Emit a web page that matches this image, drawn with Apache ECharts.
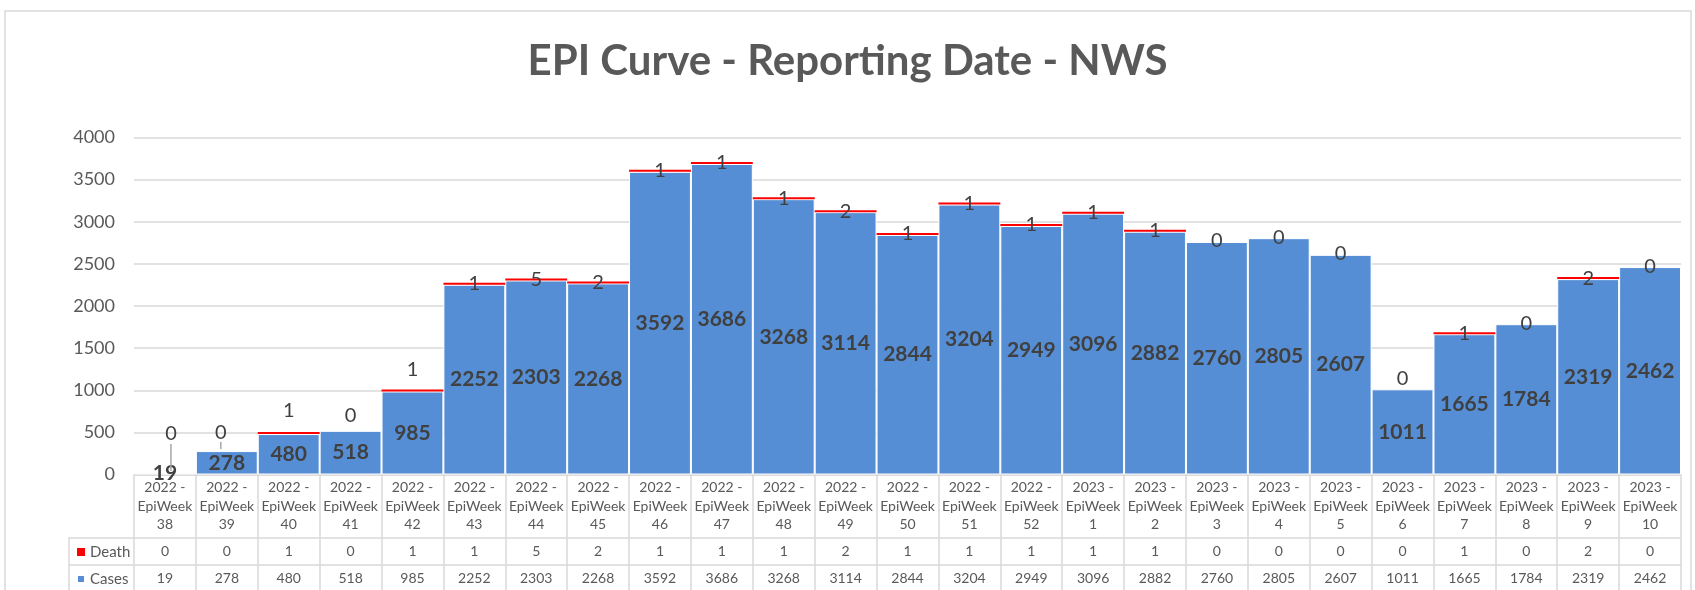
<!DOCTYPE html>
<html>
<head>
<meta charset="utf-8">
<title>EPI Curve - Reporting Date - NWS</title>
<script src="https://cdn.jsdelivr.net/npm/echarts@6/dist/echarts.min.js"></script>
<style>
  html, body { margin: 0; padding: 0; background: #fff; }
  #chart { width: 1695px; height: 590px; }
</style>
</head>
<body>
<div id="chart"></div>
<script>
// data
const categories = [
    '2022 - EpiWeek 38', '2022 - EpiWeek 39', '2022 - EpiWeek 40', '2022 - EpiWeek 41',
    '2022 - EpiWeek 42', '2022 - EpiWeek 43', '2022 - EpiWeek 44', '2022 - EpiWeek 45',
    '2022 - EpiWeek 46', '2022 - EpiWeek 47', '2022 - EpiWeek 48', '2022 - EpiWeek 49',
    '2022 - EpiWeek 50', '2022 - EpiWeek 51', '2022 - EpiWeek 52', '2023 - EpiWeek 1',
    '2023 - EpiWeek 2', '2023 - EpiWeek 3', '2023 - EpiWeek 4', '2023 - EpiWeek 5',
    '2023 - EpiWeek 6', '2023 - EpiWeek 7', '2023 - EpiWeek 8', '2023 - EpiWeek 9',
    '2023 - EpiWeek 10'
];
const cases = [19, 278, 480, 518, 985, 2252, 2303, 2268, 3592, 3686, 3268, 3114, 2844,
    3204, 2949, 3096, 2882, 2760, 2805, 2607, 1011, 1665, 1784, 2319, 2462];
const death = [0, 0, 1, 0, 1, 1, 5, 2, 1, 1, 1, 2, 1, 1, 1, 1, 1, 0, 0, 0, 0, 1, 0, 2, 0];
const yTicks = [0, 500, 1000, 1500, 2000, 2500, 3000, 3500, 4000];

// Excel moved a few death labels off the short bars
const labelNudge = { 0: [6, -38], 1: [-6, -18], 2: [0, -23], 3: [0, -14], 4: [0, -21], 20: [0, -10] };
const withLeader = [0, 1];

const FONT = 'Lato';
const GREY = '#595959';
const LINE = '#d9d9d9';
const BLUE = '#558ED5';
const RED = '#FF0000';

const chart = echarts.init(document.getElementById('chart'), null, { renderer: 'canvas' });

function tableAxis(values, offset, tickLen) {
    return {
        type: 'category',
        data: categories,
        position: 'bottom',
        offset: offset,
        axisLine: { show: true, lineStyle: { color: LINE, width: 1.5 } },
        axisTick: { show: true, interval: 0, length: tickLen, lineStyle: { color: LINE, width: 1.5 } },
        axisLabel: {
            interval: 0, margin: 6, fontFamily: FONT, fontSize: 14, color: GREY,
            formatter: (v, i) => String(values[i])
        },
        splitLine: { show: false }
    };
}

const option = {
    animation: false,
    backgroundColor: '#fff',
    title: {
        text: 'EPI Curve - Reporting Date - NWS',
        left: 'center',
        top: 35,
        textStyle: { fontFamily: FONT, fontSize: 42, fontWeight: 'bold', color: GREY }
    },
    legend: {
        data: [
            { name: 'Death', itemStyle: { color: RED } },
            { name: 'Cases', itemStyle: { color: BLUE } }
        ],
        orient: 'vertical',
        left: 76,
        top: 544,
        padding: 0,
        itemWidth: 8,
        itemHeight: 8,
        itemGap: 11,
        icon: 'rect',
        textStyle: { fontFamily: FONT, fontSize: 15, color: GREY, lineHeight: 16 }
    },
    grid: { left: 134, right: 14, top: 137.5, bottom: 115.5 },
    xAxis: [
        {
            type: 'category',
            data: categories,
            position: 'bottom',
            axisLine: { show: true, lineStyle: { color: LINE, width: 1.5 } },
            axisTick: { show: true, interval: 0, length: 63, lineStyle: { color: LINE, width: 1.5 } },
            axisLabel: {
                interval: 0, margin: 4, fontFamily: FONT, fontSize: 14, lineHeight: 18.5, color: GREY,
                formatter: v => {
                    const [yr, wk] = v.split(' - ');
                    return yr + ' -\n' + wk.replace(' ', '\n');
                }
            }
        },
        tableAxis(death, 63.5, 27),
        tableAxis(cases, 90.5, 30)
    ],
    yAxis: {
        type: 'value',
        min: yTicks[0],
        max: yTicks[yTicks.length - 1],
        interval: yTicks[1] - yTicks[0],
        axisLine: { show: false },
        axisTick: { show: false },
        axisLabel: { margin: 19, fontFamily: FONT, fontSize: 18, color: GREY, formatter: v => String(v) },
        splitLine: { lineStyle: { color: LINE, width: 1.5 } }
    },
    series: [
        {
            name: 'Cases',
            type: 'bar',
            stack: 'total',
            data: cases,
            barCategoryGap: '0%',
            itemStyle: { color: BLUE, borderColor: '#fff', borderWidth: 1 },
            label: {
                show: true, position: 'inside', fontFamily: FONT, fontSize: 21,
                fontWeight: 'bold', color: '#404040'
            },
            z: 2
        },
        {
            name: 'Death',
            type: 'bar',
            stack: 'total',
            barMinHeight: 2,
            data: death.map((v, i) => withLeader.includes(i)
                ? { value: v, labelLine: { show: true } }
                : v),
            itemStyle: { color: p => p.value > 0 ? RED : 'rgba(0,0,0,0)' },
            label: {
                show: true, position: 'inside', offset: [0, 3], fontFamily: FONT,
                fontSize: 20, color: '#404040'
            },
            labelLine: { show: false, lineStyle: { color: '#a6a6a6', width: 1.5 } },
            labelLayout: p => {
                const n = labelNudge[p.dataIndex];
                return n ? { dx: n[0], dy: n[1] } : {};
            },
            z: 3
        }
    ],
    graphic: [
        {   // chart area border
            type: 'rect', silent: true, z: -1,
            shape: { x: 5, y: 11, width: 1686, height: 620 },
            style: { fill: null, stroke: LINE, lineWidth: 1.5 }
        },
        {   // legend column of the data table
            type: 'polyline', silent: true,
            shape: { points: [[134, 538], [69, 538], [69, 592]] },
            style: { fill: null, stroke: LINE, lineWidth: 1.5 }
        },
        {
            type: 'line', silent: true,
            shape: { x1: 69, y1: 565, x2: 134, y2: 565 },
            style: { stroke: LINE, lineWidth: 1.5 }
        }
    ]
};

chart.setOption(option);
</script>
</body>
</html>
